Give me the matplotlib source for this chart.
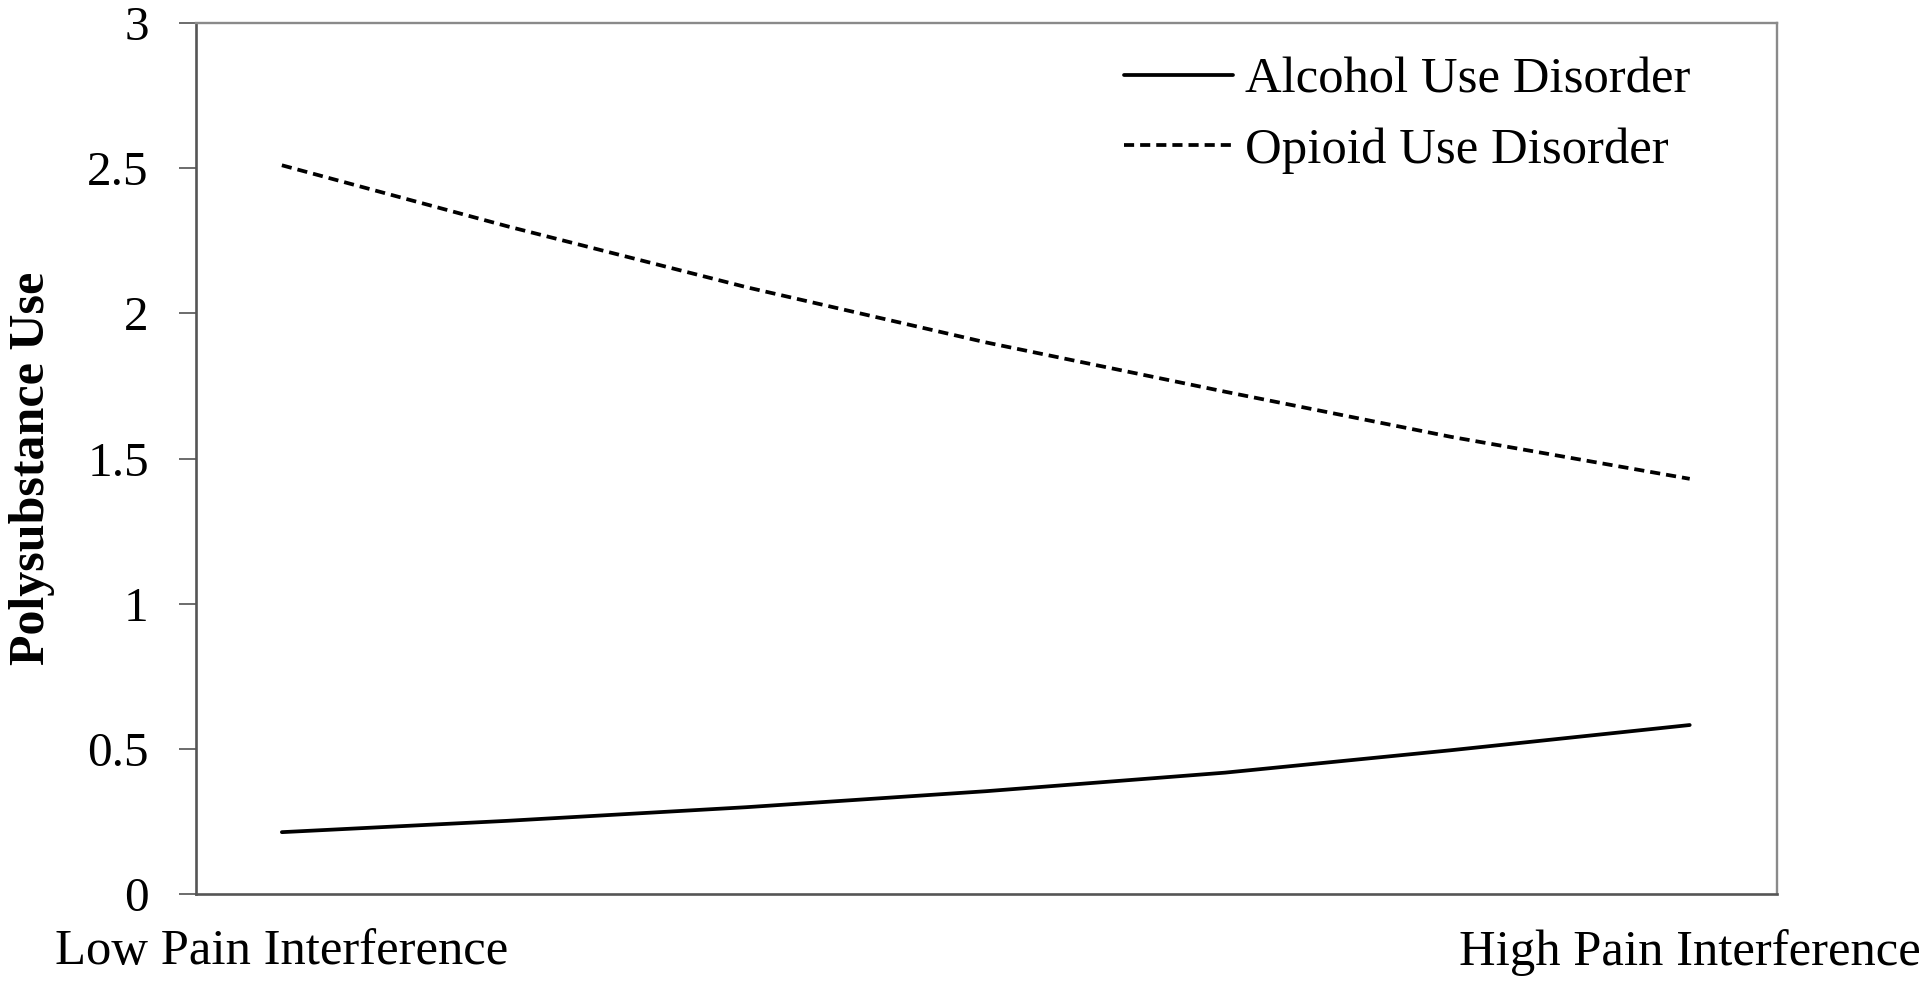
"""Polysubstance use by pain interference, alcohol vs opioid use disorder."""

import matplotlib

matplotlib.use("Agg")
import matplotlib.pyplot as plt

plt.rcParams["font.family"] = ["Liberation Serif", "DejaVu Serif"]

# Values (x: 0 = low, 1 = high pain interference)
PAIN_LEVEL = [0.0, 0.16, 0.33, 0.50, 0.67, 0.83, 1.0]
ALCOHOL = [0.213, 0.252, 0.299, 0.354, 0.418, 0.495, 0.582]
OPIOID = [2.51, 2.30, 2.09, 1.90, 1.73, 1.575, 1.43]

X_TICKS = [0.0, 1.0]
X_TICK_LABELS = ["Low Pain Interference", "High Pain Interference"]
Y_TICKS = [0, 0.5, 1, 1.5, 2, 2.5, 3]
Y_TICK_LABELS = ["0", "0.5", "1", "1.5", "2", "2.5", "3"]

W, H = 1920, 986
LINE_LW = 2.7
FS = 36.5

fig = plt.figure(figsize=(W / 100, H / 100), dpi=100)
ax = fig.add_axes([196 / W, 1 - 894 / H, (1777 - 196) / W, (894 - 23) / H])

ax.plot(PAIN_LEVEL, ALCOHOL, color="black", linewidth=LINE_LW,
        solid_capstyle="round", label="Alcohol Use Disorder")
ax.plot(PAIN_LEVEL, OPIOID, color="black", linewidth=LINE_LW,
        linestyle=(0, (2.7, 1.6)), label="Opioid Use Disorder")

ax.set_xlim(-0.061, 1.062)
ax.set_ylim(0, 3)

ax.set_xticks(X_TICKS)
ax.set_xticklabels(X_TICK_LABELS, fontsize=FS)
ax.tick_params(axis="x", length=0, pad=25)

ax.set_yticks(Y_TICKS)
ax.set_yticklabels(Y_TICK_LABELS, fontsize=35.5)
ax.tick_params(axis="y", direction="out", length=12, width=1.1,
               color="#444444", pad=22)

for side in ("left", "bottom"):
    ax.spines[side].set_color("#555555")
    ax.spines[side].set_linewidth(1.9)
for side in ("top", "right"):
    ax.spines[side].set_color("#8a8a8a")
    ax.spines[side].set_linewidth(1.7)

ax.set_ylabel("Polysubstance Use", fontsize=36, fontweight="bold", va="center")
ax.yaxis.set_label_coords(-0.1037, 0.4885)

ax.legend(
    loc="upper left",
    bbox_to_anchor=(1124 / W, 1 - 57 / H),
    bbox_transform=fig.transFigure,
    frameon=False,
    fontsize=FS,
    handlelength=2.15,
    handletextpad=0.24,
    labelspacing=0.47,
    borderpad=0,
    borderaxespad=0,
)

fig.savefig("out.png", dpi=100)
